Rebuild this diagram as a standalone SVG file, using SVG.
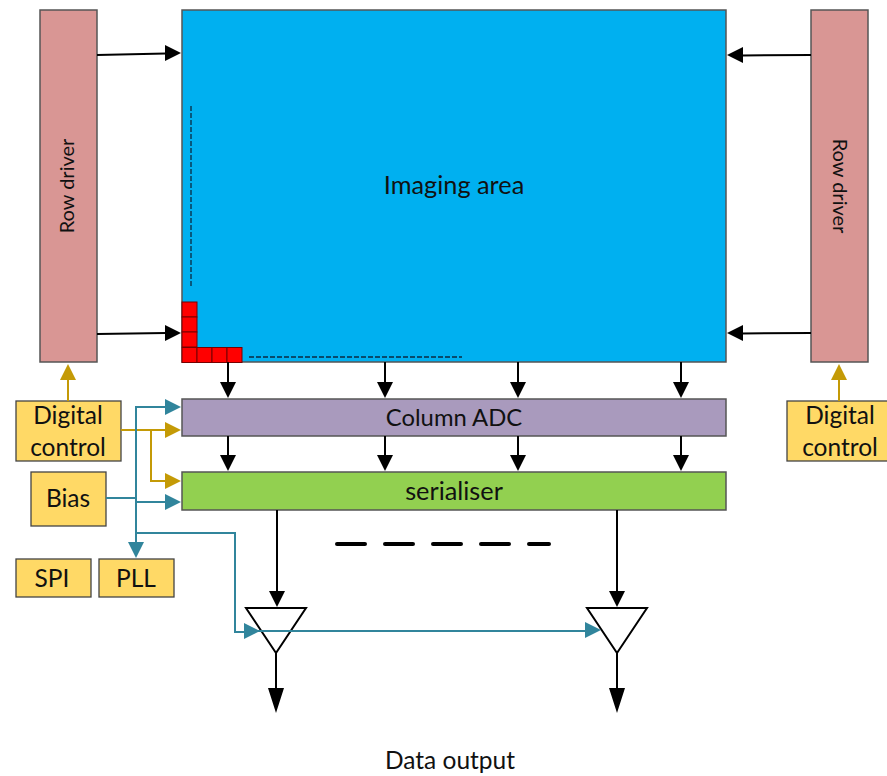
<svg xmlns="http://www.w3.org/2000/svg" width="887" height="776" viewBox="0 0 887 776">
<style>
text{font-family:"Lato","Open Sans",sans-serif;fill:#111;text-anchor:middle;font-size:24.500px}
.b{stroke:#555;stroke-width:1.5}
.y{fill:#FFD966;stroke:#444;stroke-width:1.3}
.k{fill:none;stroke:#000;stroke-width:2}
.t{fill:none;stroke:#31859C;stroke-width:2}
.g{fill:none;stroke:#C49A06;stroke-width:2}
.ka{fill:#000}.ta{fill:#31859C}.ga{fill:#C49A06}
.r{fill:#F00;stroke:#700;stroke-width:1}
</style>
<g id="row-driver-left"><rect class="b" x="40" y="10" width="57" height="352" fill="#D99694"/><text transform="translate(74,186) rotate(-90)" style="font-size:20px">Row driver</text></g>
<g id="row-driver-right"><rect class="b" x="811" y="10" width="57" height="352" fill="#D99694"/><text transform="translate(833,186) rotate(90)" style="font-size:20px">Row driver</text></g>
<g id="imaging-area"><rect class="b" x="182" y="10" width="544" height="352" fill="#00B0F0"/><text x="454" y="194" style="font-size:25.300px">Imaging area</text>
<path d="M191 106V287M249 357H462" fill="none" stroke="#0B2A40" stroke-width="1.3" stroke-dasharray="5 2"/>
<rect class="r" x="182" y="302" width="15" height="15"/><rect class="r" x="182" y="317" width="15" height="15"/><rect class="r" x="182" y="332" width="15" height="15"/><rect class="r" x="182" y="347.500" width="15" height="15"/><rect class="r" x="197" y="347.500" width="15" height="15"/><rect class="r" x="212" y="347.500" width="15" height="15"/><rect class="r" x="227" y="347.500" width="15" height="15"/></g>
<g id="column-adc"><rect class="b" x="182" y="399" width="544" height="37" fill="#A99ABD"/><text x="454" y="426" style="font-size:23.800px">Column ADC</text></g>
<g id="serialiser"><rect class="b" x="182" y="472" width="544" height="38" fill="#92D050"/><text x="454" y="500" style="font-size:25.300px">serialiser</text></g>
<g id="digital-control-left"><rect class="y" x="16" y="401" width="105" height="60"/><text x="68" y="424">Digital</text><text x="68" y="456">control</text></g>
<g id="digital-control-right"><rect class="y" x="787" y="401" width="105" height="60"/><text x="840" y="424">Digital</text><text x="840" y="456">control</text></g>
<g id="bias"><rect class="y" x="31" y="472" width="75" height="54"/><text x="68" y="507">Bias</text></g>
<g id="spi"><rect class="y" x="16" y="559" width="75" height="38"/><text x="52" y="587">SPI</text></g>
<g id="pll"><rect class="y" x="99" y="559" width="75" height="38"/><text x="136" y="587">PLL</text></g>
<g id="buffer-1"><path d="M246 608H306L276 653Z" fill="#fff" stroke="#000" stroke-width="2"/></g>
<g id="buffer-2"><path d="M587 608H647L617 653Z" fill="#fff" stroke="#000" stroke-width="2"/></g>
<g id="connectors">
<path class="k" d="M97 55L166 53.500M97 334L166 333M811 55L742 55.500M811 333L742 333.500M228 362V383M385 362V383M518 362V383M681 362V383M228 436V456M385 436V456M518 436V456M681 436V456M277 510V592M617 510V592M276 653V690M617 653V690"/>
<path class="ka" d="M181 53L165 45V61ZM181 333L165 325V341ZM727 55L743 47V63ZM727 333L743 325V341ZM228 398L220 382H236ZM385 398L377 382H393ZM518 398L510 382H526ZM681 398L673 382H689ZM228 471L220 455H236ZM385 471L377 455H393ZM518 471L510 455H526ZM681 471L673 455H689ZM277 607L269 591H285ZM617 607L609 591H625ZM276 713L268 688H284ZM617 713L609 688H625Z"/>
<path d="M337 544H549" fill="none" stroke="#000" stroke-width="4" stroke-linecap="round" stroke-dasharray="28 20"/>
<path class="g" d="M68 401V378M839 401V378M121 430H166M151 430V481H166"/>
<path class="ga" d="M68 364L60 380H76ZM839 364L831 380H847ZM181 430L165 422V438ZM181 481L165 473V489Z"/>
<path class="t" d="M166 407H136V545M106 498H136M136 502H166M136 533H235V632H246M258 631H586"/>
<path class="ta" d="M181 407L165 399V415ZM181 502L165 494V510ZM136 558L128 542H144ZM260 631L244 623V639ZM601 630L585 622V638Z"/>
</g>
<text x="450" y="769">Data output</text>
</svg>
